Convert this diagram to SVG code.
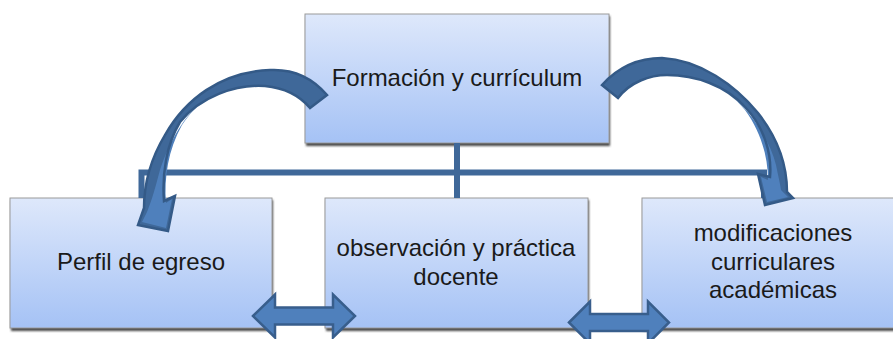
<svg xmlns="http://www.w3.org/2000/svg" width="893" height="339" viewBox="0 0 893 339">
<defs>
<linearGradient id="boxGrad" x1="0" y1="0" x2="0" y2="1">
<stop offset="0" stop-color="#DEE8FB"/>
<stop offset="1" stop-color="#A5C2F5"/>
</linearGradient>
<filter id="shadow" x="-5%" y="-5%" width="110%" height="115%">
<feGaussianBlur stdDeviation="1.2"/>
</filter>
</defs>
<style>
.shd{fill:#4a4a4a;filter:url(#shadow);}
.box{fill:url(#boxGrad);stroke:#9a9a9a;stroke-width:1;}
.lbl{font-family:"Liberation Sans",Arial,sans-serif;font-size:24px;fill:#1a1a1a;text-anchor:middle;}
.line{fill:none;stroke:#3F6899;stroke-width:6;}
.cbody{fill:#3F6899;stroke:none;}
.clight{fill:#4F80BC;stroke:none;}
.coutline{fill:none;stroke:#345A87;stroke-width:2.5;stroke-linejoin:miter;}
.darrow{fill:#4F80BC;stroke:#385E8C;stroke-width:2.5;stroke-linejoin:miter;}
</style>
<rect width="893" height="339" fill="#ffffff"/>

<g id="node-formacion">
<rect class="shd" x="306" y="16" width="304" height="130"/>
<rect class="box" x="305" y="14" width="304" height="129"/>
<text class="lbl" x="457" y="86">Formación y currículum</text>
</g>
<g id="node-perfil">
<rect class="shd" x="11" y="200" width="262" height="131"/>
<rect class="box" x="10" y="198" width="262" height="130"/>
<text class="lbl" x="141" y="270">Perfil de egreso</text>
</g>
<g id="node-observacion">
<rect class="shd" x="326" y="200" width="263" height="131"/>
<rect class="box" x="325" y="198" width="263" height="130"/>
<text class="lbl" x="456" y="256">observación y práctica</text>
<text class="lbl" x="456" y="285">docente</text>
</g>
<g id="node-modificaciones">
<rect class="shd" x="643" y="200" width="263" height="131"/>
<rect class="box" x="642" y="198" width="263" height="130"/>
<text class="lbl" x="773" y="241">modificaciones</text>
<text class="lbl" x="773" y="270">curriculares</text>
<text class="lbl" x="773" y="298">académicas</text>
</g>

<g id="connectors">
<path class="line" d="M457,143 V198 M141.5,198 V172.5 H764 V198"/>

<g id="curved-left">
<path class="cbody" d="M327,95 C310,75 290,69 270,70 C220,72 185,100 165,135 C150,160 144,185 144,208 L138,225 L168,231 L175,196 L164,201 C162,175 166,145 180,122 C200,97 235,84 265,86 C285,88 300,96 310,108 Z"/>
<path class="clight" d="M147,212 L142,222 L166,228 L172,199 L166,203 C164,178 168,150 182,125 C190,113 197,106 203,101 C185,115 170,140 160,170 C156,185 152,200 147,212 Z"/>
<path class="coutline" d="M327,95 C310,75 290,69 270,70 C220,72 185,100 165,135 C150,160 144,185 144,208 L138,225 L168,231 L175,196 L164,201 C162,175 166,145 180,122 C200,97 235,84 265,86 C285,88 300,96 310,108 Z"/>
</g>

<g id="curved-right">
<path class="cbody" d="M602,85 C620,65 640,58 662,58 C700,60 735,85 758,113 C777,137 787,165 787,192 L793,198 L765,205 L758,174 L770,177 C772,155 765,128 745,107 C725,85 695,75 667,75 C650,75 630,82 618,98 Z"/>
<path class="clight" d="M781,190 L788,197 L767,202 L761,177 L768,180 C768,157 761,132 745,110 C740,104 735,99 730,95 C750,110 770,140 776,165 C778,175 780,183 781,190 Z"/>
<path class="coutline" d="M602,85 C620,65 640,58 662,58 C700,60 735,85 758,113 C777,137 787,165 787,192 L793,198 L765,205 L758,174 L770,177 C772,155 765,128 745,107 C725,85 695,75 667,75 C650,75 630,82 618,98 Z"/>
</g>

<path id="double-left" class="darrow" d="M253,316 L275,294.5 L275,307.5 L333,307.5 L333,294.5 L355,316 L333,337.5 L333,324.5 L275,324.5 L275,337.5 Z"/>
<path id="double-right" class="darrow" d="M569,322.5 L590,301.5 L590,314 L648,314 L648,301.5 L669,322.5 L648,343.5 L648,331 L590,331 L590,343.5 Z"/>
</g>
</svg>
